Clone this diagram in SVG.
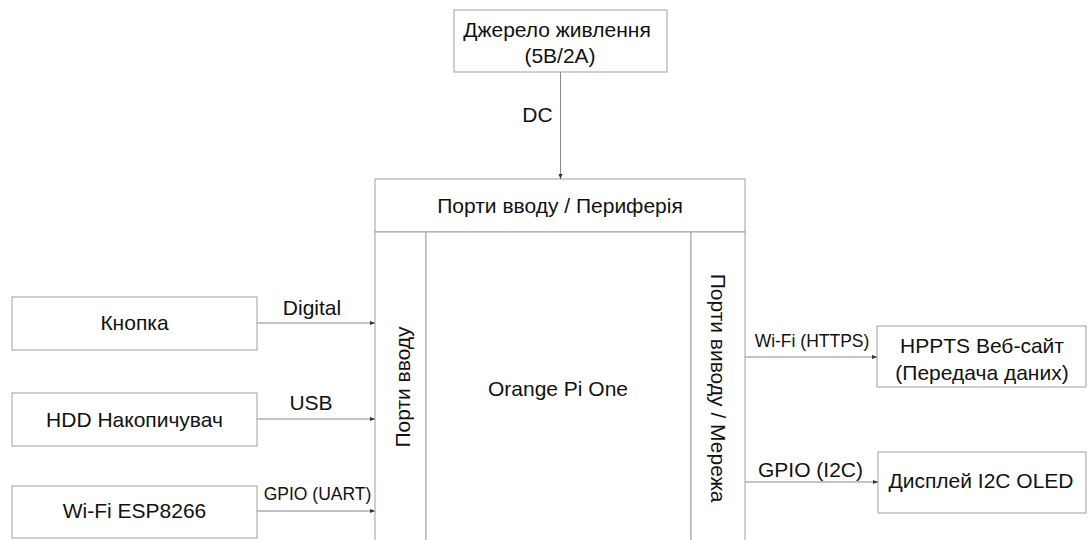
<svg xmlns="http://www.w3.org/2000/svg" width="1088" height="540" viewBox="0 0 1088 540">
<style>
.box{fill:#fff;stroke:#a0a0a0;stroke-width:1}
.t{font-family:"Liberation Sans",Arial,sans-serif;font-size:21px;fill:#111;text-anchor:middle}
.s{font-size:17.5px}
.c{stroke:#888;stroke-width:1;fill:none;marker-end:url(#ah)}
</style>
<defs>
<marker id="ah" markerUnits="userSpaceOnUse" markerWidth="6" markerHeight="6" refX="5" refY="3" orient="auto">
<path d="M0,1 L5,3 L0,5 z" fill="#333"/>
</marker>
</defs>
<rect width="1088" height="540" fill="#fff"/>
<g id="power">
<rect class="box" x="454" y="10" width="213" height="62"/>
<text class="t" x="557" y="37">Джерело живлення</text>
<text class="t" x="560" y="63">(5В/2А)</text>
</g>
<g id="periph">
<rect class="box" x="375" y="179" width="370" height="53"/>
<text class="t" x="560" y="213">Порти вводу / Периферія</text>
</g>
<g id="inputs">
<rect class="box" x="375" y="232" width="51" height="315"/>
<text class="t" transform="translate(410,387) rotate(-90)">Порти вводу</text>
</g>
<g id="orangepi">
<rect class="box" x="426" y="232" width="265" height="315"/>
<text class="t" x="558" y="396">Orange Pi One</text>
</g>
<g id="outputs">
<rect class="box" x="691" y="232" width="54" height="315"/>
<text class="t" transform="translate(711,388) rotate(90)">Порти виводу / Мережа</text>
</g>
<g id="button">
<rect class="box" x="12" y="297" width="245" height="53"/>
<text class="t" x="134.5" y="330">Кнопка</text>
</g>
<g id="hdd">
<rect class="box" x="12" y="393" width="245" height="53"/>
<text class="t" x="134.5" y="427">HDD Накопичувач</text>
</g>
<g id="esp">
<rect class="box" x="12" y="486" width="245" height="52"/>
<text class="t" x="134.5" y="518">Wi-Fi ESP8266</text>
</g>
<g id="web">
<rect class="box" x="877" y="326" width="209" height="61"/>
<text class="t" x="982" y="353">HPPTS Веб-сайт</text>
<text class="t" x="982" y="380">(Передача даних)</text>
</g>
<g id="oled">
<rect class="box" x="878" y="452" width="208" height="61"/>
<text class="t" x="981" y="488">Дисплей I2C OLED</text>
</g>
<g id="connectors">
<line class="c" x1="560.5" y1="72" x2="560.5" y2="179"/>
<text class="t" x="537.5" y="122">DC</text>
<line class="c" x1="257" y1="323" x2="375" y2="323"/>
<text class="t" x="312" y="315">Digital</text>
<line class="c" x1="257" y1="419" x2="375" y2="419"/>
<text class="t" x="311" y="410">USB</text>
<line class="c" x1="257" y1="511" x2="375" y2="511"/>
<text class="t s" x="317.5" y="500">GPIO (UART)</text>
<line class="c" x1="745" y1="357" x2="877" y2="357"/>
<text class="t s" x="812" y="347">Wi-Fi (HTTPS)</text>
<line class="c" x1="745" y1="482" x2="878" y2="482"/>
<text class="t" x="810.5" y="477">GPIO (I2C)</text>
</g>
</svg>
